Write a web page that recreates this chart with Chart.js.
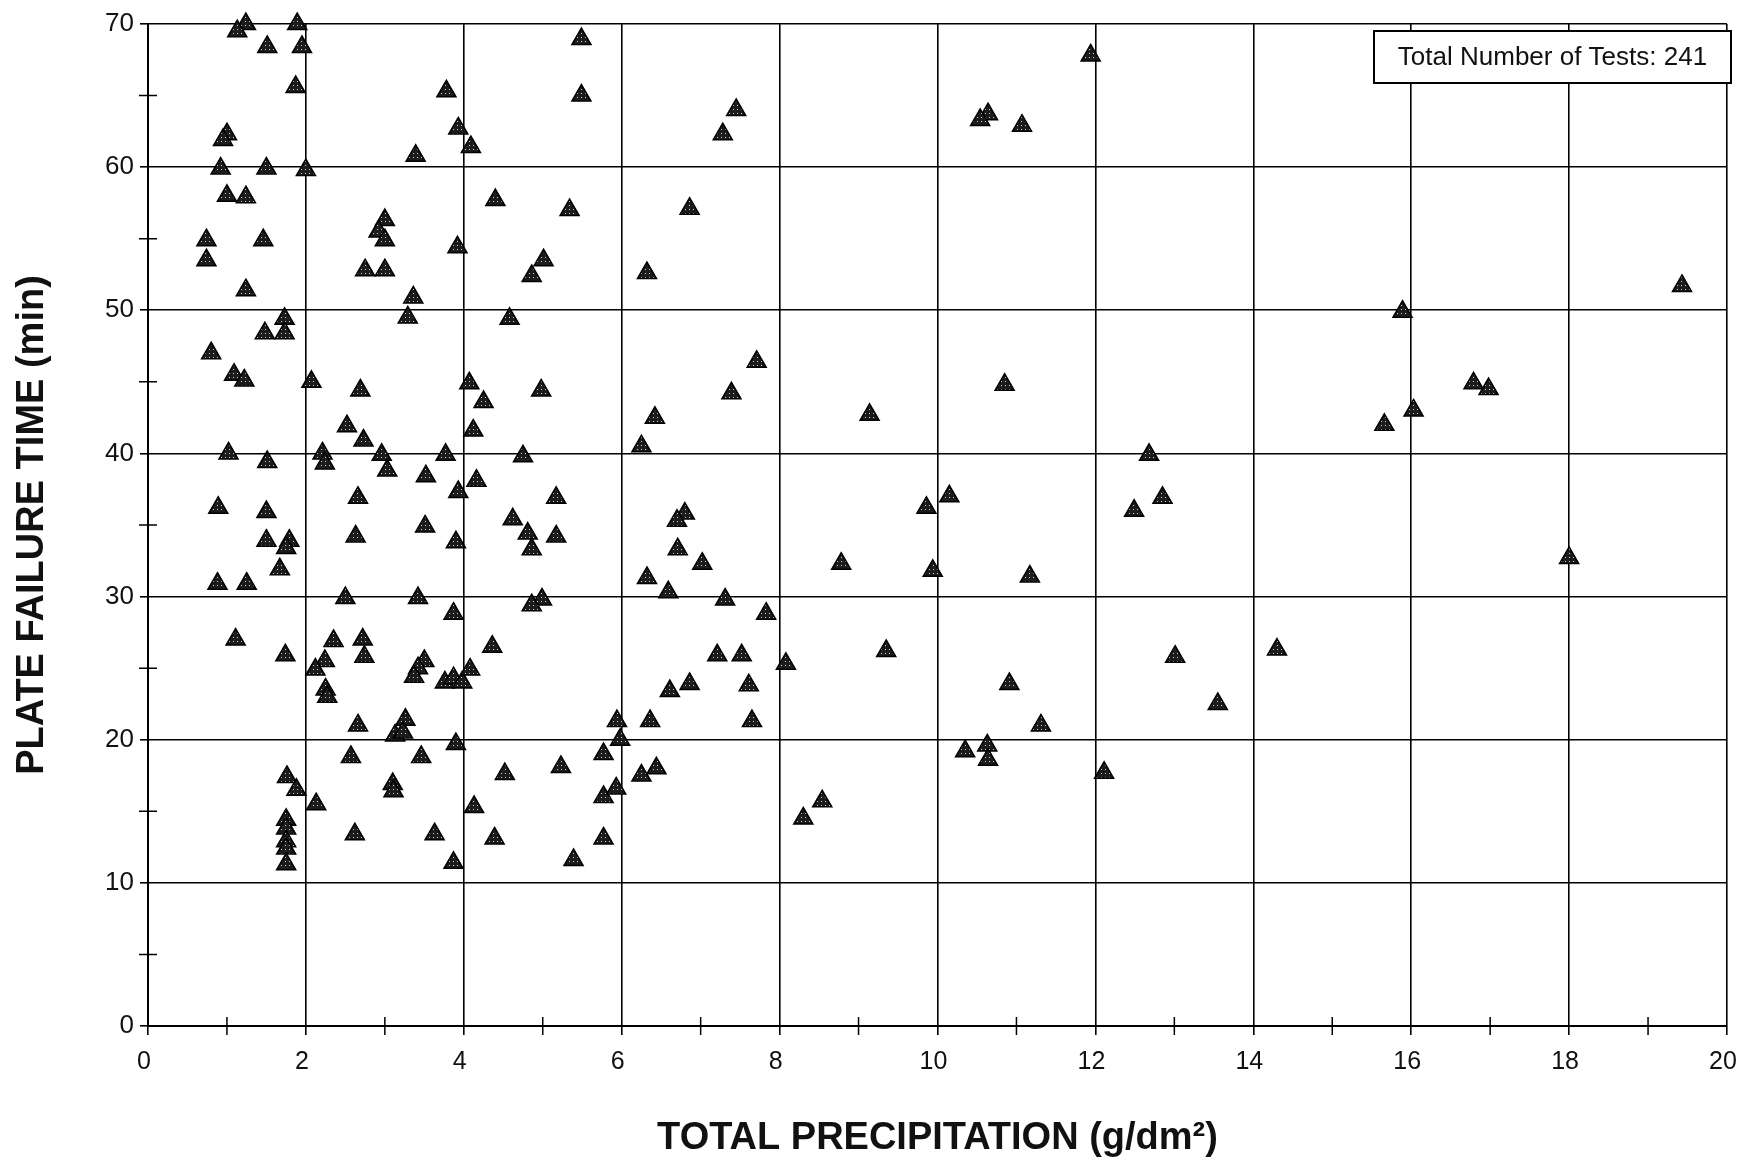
<!DOCTYPE html>
<html>
<head>
<meta charset="utf-8">
<script src="https://cdn.jsdelivr.net/npm/chart.js@4/dist/chart.umd.min.js"></script>
<style>
  html, body { margin: 0; padding: 0; background: #fff; }
  #wrap { width: 1741px; height: 1163px; }
</style>
</head>
<body>
<div id="wrap"><canvas id="plateChart" width="1741" height="1163"></canvas></div>
<script>
// values
const precipitation = [
  1.24, 1.13, 1.89, 1.51, 1.95, 1.87, 3.78, 1.0, 0.95, 3.93, 4.09, 3.39, 0.92, 1.5, 2.0, 1.0, 1.24, 3.0, 2.92,
  3.0, 0.74, 1.46, 0.74, 2.75, 3.0, 1.24, 3.36, 3.29, 1.73, 1.48, 1.73, 0.8, 1.09, 1.22, 2.07, 2.69, 4.07, 3.92,
  2.52, 2.73, 4.12, 1.02, 1.51, 2.21, 2.24, 2.96, 3.03, 3.77, 3.52, 4.16, 3.93, 0.89, 2.66, 1.5, 3.51, 1.5, 1.79,
  1.75, 2.63, 3.9, 1.67, 0.88, 1.25, 2.5, 3.42, 3.87, 1.11, 1.74, 2.35, 2.72, 2.74, 2.24, 2.12, 2.25, 2.27, 3.5,
  3.42, 3.37, 3.76, 3.87, 3.98, 4.08, 2.66, 3.26, 3.13, 3.23, 3.9,
  2.57, 3.46, 1.76, 1.88, 3.1, 3.11, 2.13, 4.13, 1.75, 1.75, 1.75, 1.75, 1.75, 2.62, 3.63, 3.87,
  5.49, 5.49, 7.45, 7.28, 4.4, 5.34, 6.86, 5.01, 4.86, 6.32, 4.58, 7.71, 4.25, 4.98, 7.39,
  6.42, 9.14, 4.75, 6.25, 5.17, 4.62, 4.81, 4.86, 5.17, 6.8, 6.7, 6.71, 7.02, 8.78, 6.32, 6.59, 7.31, 4.99, 4.86,
  7.83, 4.36, 7.21, 7.52, 8.08, 9.35, 6.86, 6.61, 7.61, 5.94, 6.36, 7.65, 5.98,
  5.77, 4.52, 5.23, 6.25, 6.44, 5.77, 5.93, 4.39, 5.77, 5.39, 8.3, 8.54,
  11.94, 10.64, 10.54, 11.07, 10.85, 12.68, 10.15, 9.86, 12.85, 12.49, 9.94, 11.17, 10.91, 11.31, 10.35, 10.63,
  10.64, 12.11, 13.01, 13.55, 14.3, 19.43, 15.89, 16.79, 16.98, 16.03, 15.66, 18.0
];
const failureTime = [
  70.0, 69.5, 70.0, 68.4, 68.4, 65.6, 65.3, 62.3, 61.9, 62.7, 61.4, 60.8, 59.9, 59.9, 59.8, 58.0, 57.9, 56.3, 55.5,
  54.9, 54.9, 54.9, 53.5, 52.8, 52.8, 51.4, 50.9, 49.5, 49.4, 48.4, 48.4, 47.0, 45.5, 45.1, 45.0, 44.4, 44.9, 54.4,
  41.9, 40.9, 41.6, 40.0, 39.4, 40.0, 39.3, 39.9, 38.8, 39.9, 38.4, 38.1, 37.3, 36.2, 36.9, 35.9, 34.9, 33.9, 33.9,
  33.4, 34.2, 33.8, 31.9, 30.9, 30.9, 29.9, 29.9, 28.8, 27.0, 25.9, 26.9, 27.0, 25.8, 25.5, 24.9, 23.5, 23.0, 25.5,
  25.0, 24.4, 24.0, 24.3, 24.0, 24.9, 21.0, 21.4, 20.3, 20.5, 19.7,
  18.8, 18.8, 17.4, 16.5, 16.9, 16.4, 15.5, 15.3, 14.4, 13.8, 12.9, 12.4, 11.3, 13.4, 13.4, 11.4,
  68.95, 65.0, 64.0, 62.3, 57.7, 57.0, 57.1, 53.5, 52.4, 52.6, 49.4, 46.4, 43.6, 44.4, 44.2,
  42.5, 42.7, 39.8, 40.5, 36.9, 35.4, 34.4, 33.3, 34.2, 35.8, 35.3, 33.3, 32.3, 32.3, 31.3, 30.3, 29.8, 29.8, 29.4,
  28.8, 26.5, 25.9, 25.9, 25.3, 26.2, 23.9, 23.4, 23.8, 21.3, 21.3, 21.3, 20.0,
  19.0, 17.6, 18.1, 17.5, 18.0, 16.0, 16.6, 13.1, 13.1, 11.6, 14.5, 15.7,
  67.8, 63.7, 63.3, 62.9, 44.8, 39.9, 37.0, 36.2, 36.9, 36.0, 31.8, 31.4, 23.9, 21.0, 19.2, 19.6,
  18.6, 17.7, 25.8, 22.5, 26.3, 51.7, 49.9, 44.9, 44.5, 43.0, 42.0, 32.7
];
const xTickLabels = [0, 2, 4, 6, 8, 10, 12, 14, 16, 18, 20];
const yTickLabels = [0, 10, 20, 30, 40, 50, 60, 70];
const boxText = 'Total Number of Tests: 241';

const tickFont = "'Liberation Sans Narrow', 'Arial Narrow', 'Liberation Sans', Arial, sans-serif";
const titleFont = "'Liberation Sans', Arial, sans-serif";

// dark fill with light dots, like the screened markers
function dottedFill() {
  const c = document.createElement('canvas');
  c.width = 4; c.height = 4;
  const g = c.getContext('2d');
  g.fillStyle = '#1c1c1c';
  g.fillRect(0, 0, 4, 4);
  g.fillStyle = '#d0d0d0';
  g.fillRect(1, 1, 1, 1);
  return g.createPattern(c, 'repeat');
}

// minor ticks crossing the axes + the note box
const extras = {
  id: 'extras',
  afterDraw(chart) {
    const { ctx, chartArea: a, scales: { x, y } } = chart;
    ctx.save();
    ctx.strokeStyle = '#000';
    ctx.lineWidth = 1.5;
    ctx.beginPath();
    for (let i = 0; i < xTickLabels.length - 1; i++) {
      const px = x.getPixelForValue((xTickLabels[i] + xTickLabels[i + 1]) / 2);
      ctx.moveTo(px, a.bottom - 9);
      ctx.lineTo(px, a.bottom + 9);
    }
    for (let i = 0; i < yTickLabels.length - 1; i++) {
      const py = y.getPixelForValue((yTickLabels[i] + yTickLabels[i + 1]) / 2);
      ctx.moveTo(a.left - 9, py);
      ctx.lineTo(a.left + 9, py);
    }
    ctx.stroke();

    const right = a.right + 4, top = a.top + 7, w = 357, h = 52;
    ctx.fillStyle = '#fff';
    ctx.fillRect(right - w, top, w, h);
    ctx.lineWidth = 2;
    ctx.strokeRect(right - w, top, w, h);
    ctx.fillStyle = '#111';
    ctx.font = '26px ' + titleFont;
    ctx.textAlign = 'center';
    ctx.textBaseline = 'middle';
    ctx.fillText(boxText, right - w / 2, top + h / 2 + 1);
    ctx.restore();
  }
};

const points = precipitation.map((v, i) => ({ x: v, y: failureTime[i] }));

new Chart(document.getElementById('plateChart'), {
  type: 'scatter',
  data: {
    datasets: [{
      data: points,
      pointStyle: 'triangle',
      pointRadius: 11,
      pointHoverRadius: 11,
      pointBackgroundColor: dottedFill(),
      pointBorderColor: '#000',
      pointBorderWidth: 1.5,
      clip: false
    }]
  },
  options: {
    responsive: false,
    animation: false,
    events: [],
    layout: { padding: { top: 24, right: 0, left: 0, bottom: 0 } },
    plugins: { legend: { display: false }, tooltip: { enabled: false } },
    scales: {
      x: {
        type: 'linear',
        min: 0,
        max: 20,
        afterFit: s => { s.height = 137; s.paddingRight = 14; },
        ticks: {
          stepSize: 2,
          color: '#111',
          padding: 12,
          labelOffset: -4,
          font: { family: tickFont, size: 25 }
        },
        grid: { color: '#000', lineWidth: 1.6, tickColor: '#000', tickLength: 9 },
        border: { color: '#000', width: 2 },
        title: {
          display: true,
          text: 'TOTAL PRECIPITATION (g/dm²)',
          color: '#111',
          font: { family: titleFont, size: 38, weight: 'bold' },
          padding: { top: 0, bottom: 2 }
        }
      },
      y: {
        type: 'linear',
        min: 0,
        max: 70,
        afterFit: s => { s.width = 148; },
        ticks: {
          stepSize: 10,
          color: '#111',
          padding: 6,
          font: { family: tickFont, size: 26 }
        },
        grid: { color: '#000', lineWidth: 1.6, tickColor: '#000', tickLength: 8 },
        border: { color: '#000', width: 2 },
        title: {
          display: true,
          text: 'PLATE FAILURE TIME (min)',
          color: '#111',
          font: { family: titleFont, size: 38, weight: 'bold' },
          padding: { top: 10, bottom: 0 }
        }
      }
    }
  },
  plugins: [extras]
});
</script>
</body>
</html>
